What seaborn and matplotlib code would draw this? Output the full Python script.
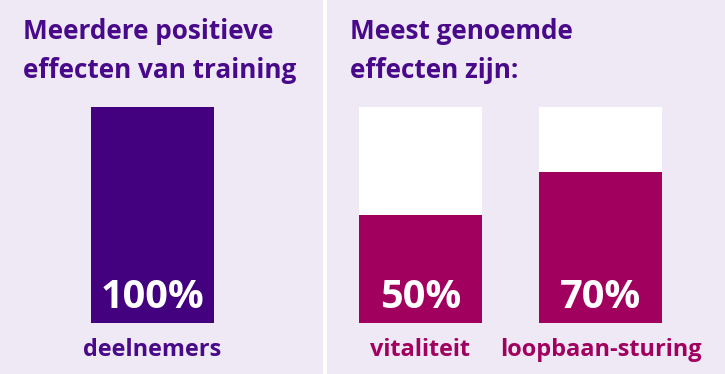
import matplotlib
matplotlib.use('Agg')
import matplotlib.pyplot as plt
import seaborn as sns
import pandas as pd

# data
left_cats = ['deelnemers']
left_vals = [100]
right_cats = ['vitaliteit', 'loopbaan-sturing']
right_vals = [50, 70]

left_title = ['Meerdere positieve', 'effecten van training']
right_title = ['Meest genoemde', 'effecten zijn:']

purple = '#43007f'
title_purple = '#48098a'
magenta = '#a1005f'
bg = '#efe9f5'

sns.set_theme(style='white')
plt.rcParams['font.family'] = ['Open Sans', 'DejaVu Sans']

W, H = 725, 374
fig = plt.figure(figsize=(W / 100, H / 100), dpi=100, facecolor='white')

unit = 180.0      # px per category
px_per_val = 2.16  # px per percent point
base_px = 323      # bar bottom, px from top


def set_limits(ax, x0, x1, center_px):
    ax.set_xlim(-(center_px - x0) / unit, (x1 - center_px) / unit)
    ax.set_ylim(-(H - base_px) / px_per_val, base_px / px_per_val)


def finish(ax, cats, vals, color):
    for i, (c, v) in enumerate(zip(cats, vals)):
        ax.text(i, 6.9, f'{v}%', ha='center', va='baseline', color='white',
                fontsize=28.6, fontweight='bold')
        ax.text(i, -15.5, c, ha='center', va='baseline', color=color,
                fontsize=16.9, fontweight='bold')
    ax.set_facecolor(bg)
    ax.set_xticks([])
    ax.set_yticks([])
    ax.set_xlabel('')
    ax.set_ylabel('')
    for s in ax.spines.values():
        s.set_visible(False)


# left panel
axl = fig.add_axes([0, 0, 323 / W, 1])
dfl = pd.DataFrame({'cat': left_cats, 'val': left_vals})
sns.barplot(data=dfl, x='cat', y='val', color=purple, width=123 / unit,
            saturation=1, linewidth=0, ax=axl)
set_limits(axl, 0, 323, 152.5)
finish(axl, left_cats, left_vals, title_purple)

# right panel
axr = fig.add_axes([327 / W, 0, (725 - 327) / W, 1])
dfr = pd.DataFrame({'cat': right_cats, 'val': right_vals, 'full': [100] * len(right_cats)})
sns.barplot(data=dfr, x='cat', y='full', color='white',
            width=123 / unit, saturation=1, linewidth=0, ax=axr)
sns.barplot(data=dfr, x='cat', y='val', color=magenta, width=123 / unit,
            saturation=1, linewidth=0, ax=axr)
set_limits(axr, 327, 725, 420.5)
finish(axr, right_cats, right_vals, magenta)

# titles
for i, line in enumerate(left_title):
    fig.text(23 / W, 1 - (39 + 39 * i) / H, line, ha='left', va='baseline',
             color=title_purple, fontsize=18.8, fontweight='bold')
for i, line in enumerate(right_title):
    fig.text(350 / W, 1 - (39 + 39 * i) / H, line, ha='left', va='baseline',
             color=title_purple, fontsize=18.8, fontweight='bold')

fig.savefig('out.png', dpi=100, facecolor='white')
